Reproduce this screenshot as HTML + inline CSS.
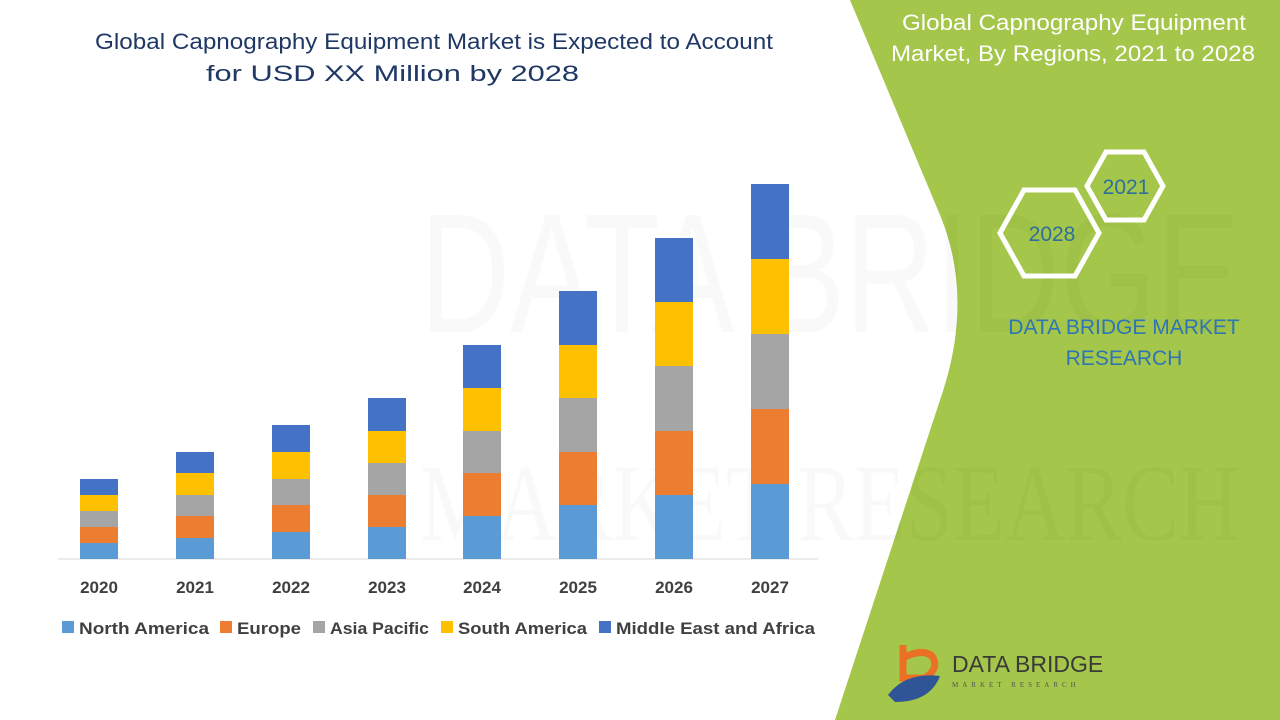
<!DOCTYPE html>
<html><head><meta charset="utf-8"><style>
body{margin:0;width:1280px;height:720px;overflow:hidden;background:#fff;font-family:"Liberation Sans",sans-serif;}
</style></head><body>
<svg width="1280" height="720" xmlns="http://www.w3.org/2000/svg" style="position:absolute;left:0;top:0">
<path d="M850 0 L1280 0 L1280 720 L835 720 L940 400 Q975 300 940 215 Z" fill="#a4c64a"/>
<text x="420" y="332" font-size="170" fill="#000" opacity="0.02" font-family="Liberation Sans" textLength="820" lengthAdjust="spacingAndGlyphs">DATA BRIDGE</text>
<text x="420" y="540" font-size="110" fill="#000" opacity="0.02" font-family="Liberation Serif" textLength="820" lengthAdjust="spacingAndGlyphs">MARKET RESEARCH</text>
<g font-family="Liberation Sans" font-size="22" fill="#1f3864">
<text x="95" y="49" textLength="678" lengthAdjust="spacingAndGlyphs">Global Capnography Equipment Market is Expected to Account</text>
<text x="206" y="81" textLength="373" lengthAdjust="spacingAndGlyphs">for USD XX Million by 2028</text>
</g>
<g font-size="22" fill="#fff">
<text x="902" y="30" textLength="344" lengthAdjust="spacingAndGlyphs">Global Capnography Equipment</text>
<text x="891" y="61" textLength="364" lengthAdjust="spacingAndGlyphs">Market, By Regions, 2021 to 2028</text>
</g>
<polygon points="1087,186 1106,152 1144,152 1163,186 1144,220 1106,220" fill="none" stroke="#fff" stroke-width="5"/>
<polygon points="1000,233 1024,190 1075,190 1099,233 1075,276 1024,276" fill="none" stroke="#fff" stroke-width="5"/>
<text x="1126" y="194" font-size="21" fill="#2e6f9e" text-anchor="middle">2021</text>
<text x="1052" y="241" font-size="21" fill="#2e6f9e" text-anchor="middle">2028</text>
<g font-size="21" fill="#2e75b6" text-anchor="middle">
<text x="1124" y="334">DATA BRIDGE MARKET</text>
<text x="1124" y="365">RESEARCH</text>
</g>
<path d="M903 645 L903 678 L925 678 Q940 668 932 656 Q922 648 903 658" fill="none" stroke="#ea7024" stroke-width="7"/>
<path d="M888 695 Q905 672 940 676 Q930 702 895 702 Z" fill="#2f5597"/>
<text x="952" y="672" font-size="23" fill="#3a3a3a" font-family="Liberation Sans">DATA BRIDGE</text>
<text x="952" y="687" font-size="7" fill="#555" letter-spacing="4" font-family="Liberation Serif">MARKET RESEARCH</text>
<line x1="58" y1="559" x2="818" y2="559" stroke="#d9d9d9" stroke-width="1"/>
<g font-size="17" font-weight="bold" fill="#404040" text-anchor="middle">
<text x="99" y="593">2020</text><text x="195" y="593">2021</text><text x="291" y="593">2022</text><text x="387" y="593">2023</text>
<text x="482" y="593">2024</text><text x="578" y="593">2025</text><text x="674" y="593">2026</text><text x="770" y="593">2027</text>
</g>
<g font-size="17" font-weight="bold" fill="#404040">
<rect x="62" y="621" width="12" height="12" fill="#5b9bd5"/><text x="79" y="634" textLength="130" lengthAdjust="spacingAndGlyphs">North America</text>
<rect x="220" y="621" width="12" height="12" fill="#ed7d31"/><text x="237" y="634" textLength="64" lengthAdjust="spacingAndGlyphs">Europe</text>
<rect x="313" y="621" width="12" height="12" fill="#a5a5a5"/><text x="330" y="634" textLength="99" lengthAdjust="spacingAndGlyphs">Asia Pacific</text>
<rect x="441" y="621" width="12" height="12" fill="#ffc000"/><text x="458" y="634" textLength="129" lengthAdjust="spacingAndGlyphs">South America</text>
<rect x="599" y="621" width="12" height="12" fill="#4472c4"/><text x="616" y="634" textLength="199" lengthAdjust="spacingAndGlyphs">Middle East and Africa</text>
</g>
<g>
<rect x="80" y="543" width="38" height="16" fill="#5b9bd5"/><rect x="80" y="527" width="38" height="16" fill="#ed7d31"/><rect x="80" y="511" width="38" height="16" fill="#a5a5a5"/><rect x="80" y="495" width="38" height="16" fill="#ffc000"/><rect x="80" y="479" width="38" height="16" fill="#4472c4"/>
<rect x="176" y="538" width="38" height="21" fill="#5b9bd5"/><rect x="176" y="516" width="38" height="22" fill="#ed7d31"/><rect x="176" y="495" width="38" height="21" fill="#a5a5a5"/><rect x="176" y="473" width="38" height="22" fill="#ffc000"/><rect x="176" y="452" width="38" height="21" fill="#4472c4"/>
<rect x="272" y="532" width="38" height="27" fill="#5b9bd5"/><rect x="272" y="505" width="38" height="27" fill="#ed7d31"/><rect x="272" y="479" width="38" height="26" fill="#a5a5a5"/><rect x="272" y="452" width="38" height="27" fill="#ffc000"/><rect x="272" y="425" width="38" height="27" fill="#4472c4"/>
<rect x="368" y="527" width="38" height="32" fill="#5b9bd5"/><rect x="368" y="495" width="38" height="32" fill="#ed7d31"/><rect x="368" y="463" width="38" height="32" fill="#a5a5a5"/><rect x="368" y="431" width="38" height="32" fill="#ffc000"/><rect x="368" y="398" width="38" height="33" fill="#4472c4"/>
<rect x="463" y="516" width="38" height="43" fill="#5b9bd5"/><rect x="463" y="473" width="38" height="43" fill="#ed7d31"/><rect x="463" y="431" width="38" height="42" fill="#a5a5a5"/><rect x="463" y="388" width="38" height="43" fill="#ffc000"/><rect x="463" y="345" width="38" height="43" fill="#4472c4"/>
<rect x="559" y="505" width="38" height="54" fill="#5b9bd5"/><rect x="559" y="452" width="38" height="53" fill="#ed7d31"/><rect x="559" y="398" width="38" height="54" fill="#a5a5a5"/><rect x="559" y="345" width="38" height="53" fill="#ffc000"/><rect x="559" y="291" width="38" height="54" fill="#4472c4"/>
<rect x="655" y="495" width="38" height="64" fill="#5b9bd5"/><rect x="655" y="431" width="38" height="64" fill="#ed7d31"/><rect x="655" y="366" width="38" height="65" fill="#a5a5a5"/><rect x="655" y="302" width="38" height="64" fill="#ffc000"/><rect x="655" y="238" width="38" height="64" fill="#4472c4"/>
<rect x="751" y="484" width="38" height="75" fill="#5b9bd5"/><rect x="751" y="409" width="38" height="75" fill="#ed7d31"/><rect x="751" y="334" width="38" height="75" fill="#a5a5a5"/><rect x="751" y="259" width="38" height="75" fill="#ffc000"/><rect x="751" y="184" width="38" height="75" fill="#4472c4"/>
</g>
</svg>
</body></html>
